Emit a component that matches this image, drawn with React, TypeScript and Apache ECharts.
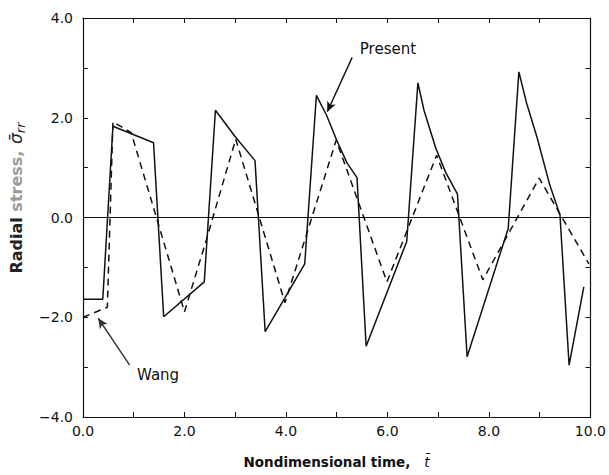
import React, { useEffect, useRef } from "react";
import * as echarts from "echarts";

// Present (solid) series
const presentX = [0, 0.39, 0.59, 1.39, 1.59, 2.39, 2.61, 3.0, 3.39, 3.59, 4.37, 4.6, 4.8, 5.0, 5.2, 5.4, 5.58, 6.38, 6.6, 6.72, 6.95, 7.15, 7.38, 7.57, 8.38, 8.59, 8.74, 8.95, 9.2, 9.4, 9.58, 9.87];
const presentY = [-1.64, -1.64, 1.83, 1.5, -1.99, -1.29, 2.15, 1.62, 1.14, -2.29, -0.93, 2.45, 2.05, 1.55, 1.1, 0.8, -2.58, -0.48, 2.7, 2.15, 1.4, 0.9, 0.47, -2.79, -0.22, 2.92, 2.3, 1.6, 0.65, 0.05, -2.96, -1.39];

// Wang (dashed) series
const wangX = [0, 0.48, 0.59, 0.95, 2.0, 2.43, 3.01, 3.98, 4.99, 5.99, 6.97, 7.88, 8.99, 9.97];
const wangY = [-2.0, -1.8, 1.92, 1.7, -1.89, -0.45, 1.57, -1.71, 1.55, -1.29, 1.25, -1.25, 0.79, -0.93];

// Annotations (data coordinates)
const presentLabel = { text: "Present", at: [6.01, 3.37] };
const presentArrow = [[5.305, 3.21], [4.815, 2.12]];
const wangLabel = { text: "Wang", at: [1.48, -3.16] };
const wangArrow = [[0.92, -2.96], [0.3, -2.02]];

const xMin = 0, xMax = 10, xStep = 1;
const yMin = -4, yMax = 4, yStep = 1;

const FONT = "DejaVu Sans";

const fmt = (v: number) => {
  if (Math.round(v) % 2 !== 0) return "";
  const s = Math.abs(v).toFixed(1);
  return v < 0 ? "\u2212" + s : s;
};

export default function App() {
  const ref = useRef<HTMLDivElement>(null);
  useEffect(() => {
    if (!ref.current) return;
    const chart = echarts.init(ref.current, null, { renderer: "svg" });
    const axisCommon = {
      axisLine: { show: true, onZero: false, lineStyle: { color: "#111", width: 1.2 } },
      axisTick: { show: true, inside: true, length: 5, lineStyle: { color: "#111", width: 1 } },
      splitLine: { show: false },
    };
    chart.setOption({
      animation: false,
      backgroundColor: "#fff",
      grid: { left: 83, right: 16, top: 18, bottom: 58, containLabel: false },
      xAxis: [
        {
          type: "value", min: xMin, max: xMax, interval: xStep, position: "bottom",
          ...axisCommon,
          axisLabel: { formatter: fmt, color: "#111", fontFamily: FONT, fontSize: 14, margin: 7, showMinLabel: true, showMaxLabel: true },
          name: "{a|Nondimensional time,   }{t|t\u0304}",
          nameLocation: "middle",
          nameGap: 38,
          nameTextStyle: {
            rich: {
              a: { fontFamily: FONT, fontSize: 13.5, fontWeight: "bold", color: "#111" },
              t: { fontFamily: FONT, fontSize: 14, fontStyle: "italic", color: "#111" },
            },
          },
        },
        {
          type: "value", min: xMin, max: xMax, interval: xStep, position: "top",
          ...axisCommon,
          axisLabel: { show: false },
        },
      ],
      yAxis: [
        {
          type: "value", min: yMin, max: yMax, interval: yStep, position: "left",
          ...axisCommon,
          axisLabel: { formatter: fmt, color: "#111", fontFamily: FONT, fontSize: 14, margin: 10 },
        },
        {
          type: "value", min: yMin, max: yMax, interval: yStep, position: "right",
          ...axisCommon,
          axisLabel: { show: false },
        },
      ],
      graphic: [
        {
          type: "text",
          x: 16,
          y: 198,
          rotation: Math.PI / 2,
          style: {
            text: "{a|Radial }{g|stress,}  {s|\u03c3\u0304}{r|rr}",
            align: "center",
            verticalAlign: "middle",
            rich: {
              a: { fontFamily: FONT, fontSize: 16, fontWeight: "bold", fill: "#222" },
              g: { fontFamily: FONT, fontSize: 16, fontWeight: "bold", fill: "#9a9a9a" },
              s: { fontFamily: FONT, fontSize: 17, fontStyle: "italic", fill: "#222" },
              r: { fontFamily: FONT, fontSize: 13, fontStyle: "italic", fill: "#222", padding: [8, 0, 0, 0] },
            },
          },
        },
      ],
      series: [
        {
          name: "Present",
          type: "line",
          data: presentX.map((x, i) => [x, presentY[i]]),
          showSymbol: false,
          lineStyle: { color: "#111", width: 1.5 },
          z: 3,
          markLine: {
            silent: true,
            symbol: ["none", "none"],
            label: { show: false },
            lineStyle: { color: "#111", width: 1.2, type: "solid" },
            data: [{ yAxis: 0 }],
          },
        },
        {
          name: "Wang",
          type: "line",
          data: wangX.map((x, i) => [x, wangY[i]]),
          showSymbol: false,
          lineStyle: { color: "#111", width: 1.5, type: [7, 5] },
          z: 2,
        },
        {
          name: "annotations",
          type: "line",
          data: [],
          markLine: {
            silent: true,
            symbol: ["none", "arrow"],
            symbolSize: [7, 10],
            label: { show: false },
            data: [
              [
                { coord: presentArrow[0], lineStyle: { color: "#111", width: 1.4, type: "solid" } },
                { coord: presentArrow[1] },
              ],
              [
                { coord: wangArrow[0], lineStyle: { color: "#333", width: 1.4, type: "solid" } },
                { coord: wangArrow[1] },
              ],
            ],
          },
          markPoint: {
            silent: true,
            symbol: "circle",
            symbolSize: 0,
            data: [
              { coord: presentLabel.at, value: presentLabel.text, label: { formatter: presentLabel.text } },
              { coord: wangLabel.at, value: wangLabel.text, label: { formatter: wangLabel.text } },
            ],
            label: { show: true, position: "inside", color: "#111", fontFamily: FONT, fontSize: 15 },
          },
        },
      ],
    });
    return () => chart.dispose();
  }, []);
  return <div ref={ref} style={{ position: "fixed", left: 0, top: 0, width: 609, height: 475 }} />;
}
